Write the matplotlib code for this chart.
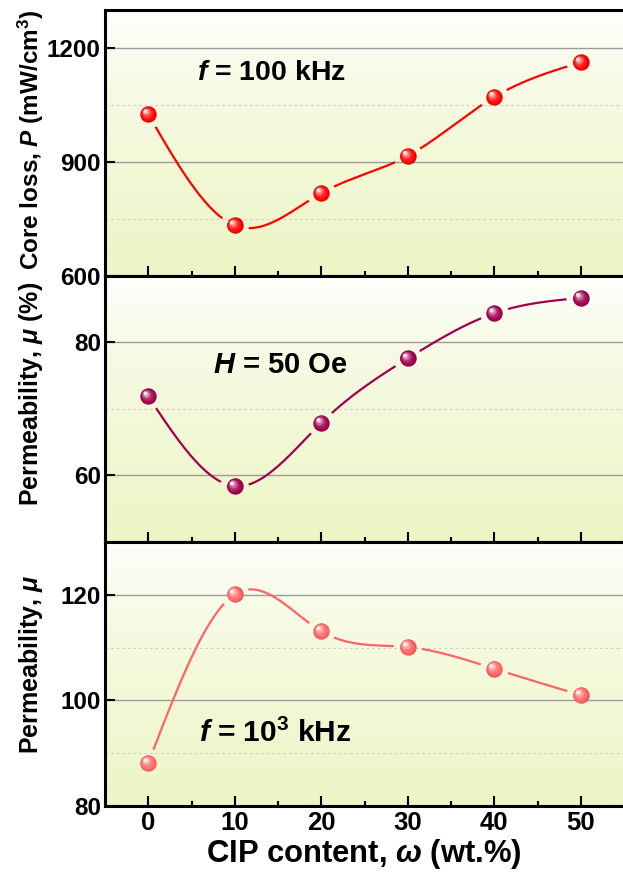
import numpy as np
import matplotlib
matplotlib.use("Agg")
import matplotlib.pyplot as plt
from matplotlib import transforms
from matplotlib.ticker import MultipleLocator, FixedLocator
from matplotlib.colors import to_rgb

# ---------------- data ----------------
cip = [0, 10, 20, 30, 40, 50]
core_loss = [1026, 733, 818, 916, 1071, 1162]
perm_50oe = [71.9, 58.4, 67.9, 77.6, 84.4, 86.7]
perm_1mhz = [88.1, 120.1, 113.1, 110.1, 106.0, 101.0]
x_ticks = [0, 10, 20, 30, 40, 50]

plt.rcParams.update({
    "font.family": ["Liberation Sans", "DejaVu Sans"],
    "font.weight": "bold",
    "mathtext.fontset": "custom",
    "mathtext.rm": "Liberation Sans:bold",
    "mathtext.bf": "Liberation Sans:bold",
    "mathtext.it": "Liberation Sans:italic:bold",
})

W, H = 623, 872
fig = plt.figure(figsize=(W / 100, H / 100), dpi=100)


def px_axes(l, t, r, b):
    return fig.add_axes([l / W, 1 - b / H, (r - l) / W, (b - t) / H])


def natural_spline(x, y, xs):
    x = np.asarray(x, float)
    y = np.asarray(y, float)
    n = len(x)
    h = np.diff(x)
    A = np.zeros((n, n))
    rhs = np.zeros(n)
    A[0, 0] = 1
    A[-1, -1] = 1
    for i in range(1, n - 1):
        A[i, i - 1] = h[i - 1]
        A[i, i] = 2 * (h[i - 1] + h[i])
        A[i, i + 1] = h[i]
        rhs[i] = 6 * ((y[i + 1] - y[i]) / h[i] - (y[i] - y[i - 1]) / h[i - 1])
    M = np.linalg.solve(A, rhs)
    idx = np.clip(np.searchsorted(x, xs) - 1, 0, n - 2)
    x0, x1 = x[idx], x[idx + 1]
    hh = x1 - x0
    a = (x1 - xs) / hh
    b = (xs - x0) / hh
    return (a * y[idx] + b * y[idx + 1]
            + ((a ** 3 - a) * M[idx] + (b ** 3 - b) * M[idx + 1]) * hh ** 2 / 6)


def background(ax):
    g = np.linspace(0, 1, 256)[:, None, None] ** 0.65
    top = np.array([1.0, 1.0, 1.0])
    bot = np.array(to_rgb("#edf5c6"))
    img = top * (1 - g) + bot * g
    ax.imshow(img, extent=(0, 1, 0, 1), transform=ax.transAxes,
              aspect="auto", zorder=-10, interpolation="bilinear")


def sphere(ax, x, y, color):
    base = np.array(to_rgb(color))
    S = 11.8
    N = 10
    for i in range(N):
        f = i / (N - 1)
        size = S * (1 - 0.85 * f)
        w = f ** 2.2
        if i == 0:
            c = base * 0.88
        else:
            c = base * (1 - w) + np.ones(3) * w
        tr = transforms.offset_copy(ax.transData, fig=fig,
                                    x=-0.2 * S * f, y=0.22 * S * f, units="points")
        ax.plot(x, y, "o", ms=size, mfc=c, mec="none", transform=tr,
                zorder=4 + 0.01 * i, clip_on=False)


def series(ax, x, y, color, gap_px=14):
    xs = np.linspace(x[0], x[-1], 1000)
    ys = natural_spline(x, y, xs)
    disp = ax.transData.transform(np.column_stack([xs, ys]))
    pts = ax.transData.transform(np.column_stack([x, y]))
    d = np.min(np.hypot(disp[:, None, 0] - pts[None, :, 0],
                        disp[:, None, 1] - pts[None, :, 1]), axis=1)
    ym = np.where(d < gap_px, np.nan, ys)
    ax.plot(xs, ym, color=color, lw=1.6, solid_capstyle="butt", zorder=3)
    sphere(ax, x, y, color)


def style(ax, ylim, major, minor, labels_x):
    background(ax)
    ax.set_xlim(-5, 55)
    ax.set_ylim(*ylim)
    ax.xaxis.set_major_locator(FixedLocator(x_ticks))
    ax.xaxis.set_minor_locator(MultipleLocator(5))
    ax.yaxis.set_major_locator(MultipleLocator(major))
    ax.yaxis.set_minor_locator(MultipleLocator(minor))
    ax.tick_params(axis="x", which="major", direction="in", length=7.2, width=1.5,
                   top=False, labelbottom=labels_x, labelsize=18.5, pad=3.5)
    ax.tick_params(axis="x", which="minor", direction="in", length=3.6, width=1.5, top=False)
    ax.tick_params(axis="y", which="major", direction="in", length=7.2, width=1.5,
                   right=False, labelsize=17.5, pad=3)
    ax.tick_params(axis="y", which="minor", length=0, right=False)
    ax.grid(axis="y", which="major", color="#9c9c9c", lw=1.0, zorder=1)
    ax.grid(axis="y", which="minor", color="#cfcfcf", lw=0.8, ls=(0, (2.5, 2.5)), zorder=1)
    for s in ax.spines.values():
        s.set_linewidth(2.2)
        s.set_zorder(6)


ax1 = px_axes(105, 10, 624, 276)
ax2 = px_axes(105, 276, 624, 542)
ax3 = px_axes(105, 542, 624, 806)

style(ax1, (600, 1300), 300, 150, False)
style(ax2, (50, 90), 20, 10, False)
style(ax3, (80, 130), 20, 10, True)

series(ax1, cip, core_loss, "#ff0000")
series(ax2, cip, perm_50oe, "#a0004e")
series(ax3, cip, perm_1mhz, "#ff6464")

ax1.text(0.177, 0.737, r"$f$ = 100 kHz", transform=ax1.transAxes, fontsize=20.5,
         ha="left", va="baseline")
ax2.text(0.208, 0.635, r"$H$ = 50 Oe", transform=ax2.transAxes, fontsize=21,
         ha="left", va="baseline")
ax3.text(0.181, 0.242, r"$f$ = 10$^3$ kHz", transform=ax3.transAxes, fontsize=21.5,
         ha="left", va="baseline")

fig.text(31 / W, 1 - 140 / H, r"Core loss, $P$ (mW/cm$^3$)", rotation=90,
         ha="center", va="center", fontsize=17.5)
fig.text(31 / W, 1 - 394 / H, r"Permeability, $\mu$ (%)", rotation=90,
         ha="center", va="center", fontsize=18)
fig.text(31 / W, 1 - 664 / H, r"Permeability, $\mu$", rotation=90,
         ha="center", va="center", fontsize=18)
fig.text(364 / W, 1 - 862 / H, r"CIP content, $\omega$ (wt.%)",
         ha="center", va="baseline", fontsize=22.3)

fig.savefig("out.png", dpi=100)
